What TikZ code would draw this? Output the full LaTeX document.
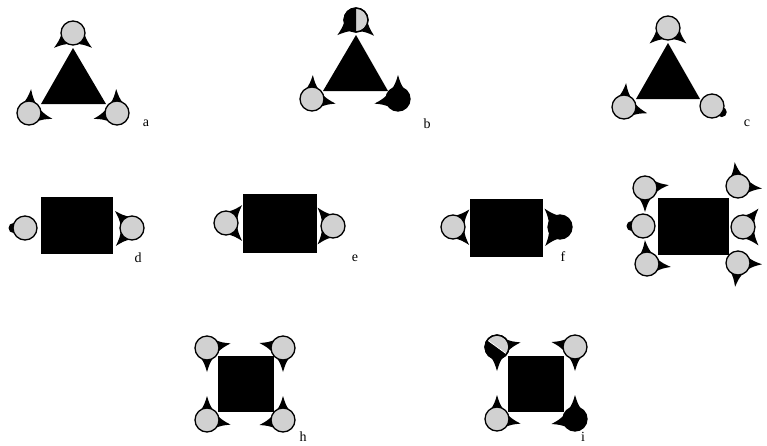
\documentclass[tikz,border=0pt]{standalone}
\usepackage{fontspec}
\setmainfont{Liberation Serif}
\usetikzlibrary{calc,backgrounds}
\colorlet{motgray}{black!18}
\tikzset{
  motcell/.style={
    circle,
    draw=black,
    fill=motgray,
    line width=1.3pt,
    minimum size=24pt,
    inner sep=0pt,
    outer sep=0pt
  },
  motdark/.style={motcell,fill=black},
  motrim/.style={draw=black,line width=1.3pt},
  motbody/.style={fill=black,inner sep=0pt,outer sep=0pt},
  motthorn/.style={fill=black},
  motlabel/.style={font=\fontsize{14}{16}\selectfont,inner sep=0pt}
}
% a thorn on a cell, pointing along an angle
\newcommand{\thorn}[2]{%
  \begin{scope}[on background layer]
    \fill[motthorn] ($(#1)+(#2+38:11)$) .. controls ($(#1)+(#2+9:16)$) .. ($(#1)+(#2:24)$)
      .. controls ($(#1)+(#2-9:16)$) .. ($(#1)+(#2-38:11)$) -- cycle;
  \end{scope}}
% a small knob on a cell
\newcommand{\knob}[2]{%
  \begin{scope}[on background layer]
    \fill[motthorn] ($(#1)+(#2:11.5)$) circle[radius=5];
  \end{scope}}

\begin{document}
\begin{tikzpicture}[x=1pt,y=1pt]
  \useasboundingbox (0,0) rectangle (767,-445);

  % a
  \fill[motbody] (73,-48) -- (41,-104) -- (106,-104) -- cycle;
  \node[motcell] (a1) at (73,-33) {};
  \node[motcell] (a2) at (29,-113) {};
  \node[motcell] (a3) at (117,-113) {};
  \thorn{a1}{218} \thorn{a1}{-38}
  \thorn{a2}{85} \thorn{a2}{-14}
  \thorn{a3}{92} \thorn{a3}{194}
  \node[motlabel] (alab) at (146,-123) {a};

  % b
  \fill[motbody] (356,-35) -- (323,-91) -- (388,-91) -- cycle;
  \node[motcell] (b1) at (356,-20) {};
  \fill (b1.90) arc[start angle=90,end angle=270,radius=12] -- cycle;
  \draw[motrim] (b1) circle[radius=12];
  \node[motcell] (b2) at (312,-99) {};
  \node[motdark] (b3) at (398,-99) {};
  \thorn{b1}{219} \thorn{b1}{-41}
  \thorn{b2}{88} \thorn{b2}{-11}
  \thorn{b3}{90} \thorn{b3}{191}
  \node[motlabel] (blab) at (427,-124) {b};

  % c
  \fill[motbody] (668,-43) -- (636,-99) -- (700,-99) -- cycle;
  \node[motcell] (c1) at (668,-28) {};
  \node[motcell] (c2) at (624,-107) {};
  \node[motcell] (c3) at (712,-106) {};
  \thorn{c1}{220} \thorn{c1}{-40}
  \thorn{c2}{85} \thorn{c2}{-15}
  \knob{c3}{-32}
  \node[motlabel] (clab) at (747,-123) {c};

  % d
  \node[motbody,minimum width=72pt,minimum height=57pt] (dbody) at (77,-225.5) {};
  \node[motcell] (d1) at (25,-228) {};
  \node[motcell] (d2) at (132,-228) {};
  \knob{d1}{180}
  \thorn{d2}{135} \thorn{d2}{228}
  \node[motlabel] (dlab) at (138,-258) {d};

  % e
  \node[motbody,minimum width=74pt,minimum height=59pt] (ebody) at (280,-223.5) {};
  \node[motcell] (e1) at (226,-223) {};
  \node[motcell] (e2) at (333,-226) {};
  \thorn{e1}{48} \thorn{e1}{-48}
  \thorn{e2}{130} \thorn{e2}{230}
  \node[motlabel] (elab) at (355,-258) {e};

  % f
  \node[motbody,minimum width=73pt,minimum height=58pt] (fbody) at (506.5,-228) {};
  \node[motcell] (f1) at (453,-227) {};
  \node[motdark] (f2) at (560,-227) {};
  \thorn{f1}{47} \thorn{f1}{-48}
  \thorn{f2}{130} \thorn{f2}{232}
  \node[motlabel] (flab) at (563,-257) {f};

  % g
  \node[motbody,minimum width=71pt,minimum height=57pt] (gbody) at (693.5,-226.5) {};
  \node[motcell] (g1) at (645,-188) {};
  \node[motcell] (g2) at (643,-226) {};
  \node[motcell] (g3) at (647,-264) {};
  \node[motcell] (g4) at (738,-186) {};
  \node[motcell] (g5) at (743,-227) {};
  \node[motcell] (g6) at (738,-263) {};
  \thorn{g1}{7} \thorn{g1}{-90}
  \knob{g2}{180}
  \thorn{g3}{95} \thorn{g3}{-7}
  \thorn{g4}{98} \thorn{g4}{-6}
  \thorn{g5}{50} \thorn{g5}{-50}
  \thorn{g6}{-3} \thorn{g6}{263}

  % h
  \node[motbody,minimum width=56pt,minimum height=56pt] (hbody) at (246,-384) {};
  \node[motcell] (h1) at (207,-348) {};
  \node[motcell] (h2) at (283,-348) {};
  \node[motcell] (h3) at (207,-420) {};
  \node[motcell] (h4) at (283,-420) {};
  \thorn{h1}{11} \thorn{h1}{270}
  \thorn{h2}{168} \thorn{h2}{270}
  \thorn{h3}{90} \thorn{h3}{-11}
  \thorn{h4}{90} \thorn{h4}{192}
  \node[motlabel] (hlab) at (303,-437) {h};

  % i
  \node[motbody,minimum width=56pt,minimum height=56pt] (ibody) at (536,-384) {};
  \node[motcell] (i1) at (497,-347) {};
  \fill (i1.144) arc[start angle=144,end angle=324,radius=12] -- cycle;
  \draw[white,line width=0.8pt] (i1.144) -- (i1.324);
  \draw[motrim] (i1) circle[radius=12];
  \node[motcell] (i2) at (575,-347) {};
  \node[motcell] (i3) at (497,-419) {};
  \node[motdark] (i4) at (575,-419) {};
  \thorn{i1}{11} \thorn{i1}{270}
  \thorn{i2}{168} \thorn{i2}{270}
  \thorn{i3}{90} \thorn{i3}{-11}
  \thorn{i4}{90} \thorn{i4}{192}
  \node[motlabel] (ilab) at (583,-437) {i};
\end{tikzpicture}
\end{document}
